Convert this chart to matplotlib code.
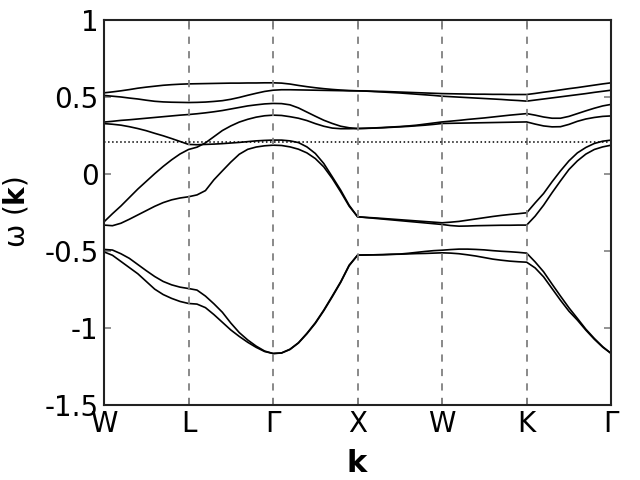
import matplotlib
matplotlib.use("Agg")
import matplotlib.pyplot as plt
import numpy as np

# path coordinate (high-symmetry points at integer positions), step 0.1
kpath = np.round(np.linspace(0, 6, 61), 2)
sym_labels = ["W", "L", "Γ", "X", "W", "K", "Γ"]
sym_pos = [0, 1, 2, 3, 4, 5, 6]
fermi = 0.205

band1 = [.525, .531, .538, .546, .555, .562, .568, .574, .578, .581, .583,
         .584, .585, .586, .587, .588, .588, .589, .589, .590, .590,
         .588, .582, .573, .565, .558, .552, .547, .543, .540, .538,
         .537, .535, .534, .532, .530, .528, .526, .524, .522, .520,
         .519, .518, .517, .516, .516, .515, .515, .514, .514, .514,
         .521, .529, .536, .544, .552, .559, .567, .575, .583, .590]
band2 = [.508, .503, .498, .491, .485, .477, .470, .466, .464, .463, .462,
         .463, .465, .469, .474, .483, .495, .509, .522, .534, .542,
         .545, .545, .544, .543, .542, .541, .540, .539, .538, .538,
         .536, .533, .530, .527, .524, .520, .516, .512, .508, .503,
         .500, .497, .494, .491, .488, .485, .482, .478, .475, .471,
         .478, .485, .492, .499, .506, .513, .520, .528, .535, .542]
band3 = [.335, .340, .346, .350, .355, .360, .365, .370, .375, .380, .384,
         .389, .395, .402, .410, .420, .430, .440, .447, .453, .456,
         .455, .447, .427, .400, .373, .347, .326, .308, .298, .293,
         .295, .297, .300, .303, .306, .310, .315, .322, .329, .336,
         .341, .346, .352, .357, .362, .368, .374, .380, .385, .390,
         .380, .368, .360, .360, .372, .390, .408, .425, .440, .450]
band4 = [-.313, -.260, -.210, -.155, -.100, -.050, .000, .047, .090, .128, .157,
         .172, .200, .240, .280, .310, .335, .353, .367, .376, .380,
         .378, .370, .360, .345, .325, .308, .296, .292, .292, .293,
         .294, .296, .298, .301, .304, .307, .311, .315, .320, .326,
         .327, .328, .329, .330, .331, .332, .333, .334, .335, .336,
         .322, .310, .304, .305, .320, .340, .355, .365, .372, .375]
band5 = [.325, .321, .315, .305, .293, .279, .262, .246, .228, .209, .190,
         .188, .190, .192, .195, .199, .203, .208, .213, .216, .218,
         .218, .213, .202, .174, .131, .066, -.020, -.107, -.205, -.280,
         -.284, -.287, -.291, -.295, -.299, -.303, -.307, -.311, -.315, -.319,
         -.315, -.310, -.302, -.294, -.286, -.278, -.271, -.265, -.260, -.254,
         -.190, -.129, -.053, .018, .083, .135, .170, .196, .211, .218]
band6 = [-.334, -.338, -.322, -.296, -.268, -.240, -.212, -.188, -.170, -.158, -.150,
         -.138, -.110, -.040, .018, .075, .126, .158, .173, .181, .185,
         .183, .174, .159, .135, .098, .044, -.031, -.118, -.211, -.280,
         -.285, -.290, -.295, -.300, -.305, -.310, -.315, -.320, -.325, -.330,
         -.337, -.341, -.340, -.338, -.337, -.336, -.335, -.335, -.334, -.334,
         -.276, -.205, -.124, -.047, .027, .083, .127, .157, .174, .185]
band7 = [-.492, -.496, -.520, -.550, -.590, -.630, -.668, -.700, -.722, -.737, -.746,
         -.756, -.795, -.845, -.900, -.970, -1.032, -1.080, -1.120, -1.152, -1.168,
         -1.164, -1.140, -1.098, -1.037, -.968, -.886, -.795, -.702, -.594, -.529,
         -.528, -.527, -.526, -.524, -.522, -.517, -.511, -.505, -.500, -.497,
         -.493, -.490, -.490, -.492, -.495, -.500, -.504, -.507, -.511, -.516,
         -.573, -.637, -.717, -.795, -.871, -.940, -1.010, -1.070, -1.124, -1.168]
band8 = [-.508, -.530, -.570, -.610, -.650, -.700, -.750, -.785, -.810, -.830, -.843,
         -.847, -.870, -.915, -.965, -1.015, -1.057, -1.095, -1.128, -1.155, -1.168,
         -1.165, -1.142, -1.100, -1.040, -.972, -.890, -.800, -.706, -.598, -.529,
         -.528, -.527, -.526, -.524, -.523, -.521, -.519, -.518, -.516, -.514,
         -.516, -.520, -.527, -.535, -.545, -.555, -.562, -.568, -.572, -.575,
         -.612, -.670, -.746, -.822, -.893, -.951, -1.016, -1.075, -1.127, -1.168]

bands = [band1, band2, band3, band4, band5, band6, band7, band8]

fig = plt.figure(figsize=(6.4, 4.8), dpi=100)
ax = fig.add_axes([0.1625, 0.157, 0.7925, 0.802])

for b in bands:
    ax.plot(kpath, b, color="black", lw=1.2)

for p in sym_pos[1:-1]:
    ax.axvline(p, color="#808080", ls=(0, (4, 4)), lw=1.3)
ax.axhline(fermi, color="black", ls=":", lw=1.1)

ax.set_xlim(0, 6)
ax.set_ylim(-1.5, 1)
ax.set_xticks(sym_pos)
ax.set_xticklabels(sym_labels)
ax.set_yticks([-1.5, -1, -0.5, 0, 0.5, 1])
ax.set_yticklabels(["-1.5", "-1", "-0.5", "0", "0.5", "1"])
ax.tick_params(direction="in", length=5, width=1.2, color="#808080",
               top=True, right=True, labelsize=20, pad=4)
for s in ax.spines.values():
    s.set_color("#222222")
    s.set_linewidth(1.5)

ax.set_xlabel(r"$\mathbf{k}$", fontsize=22, labelpad=8)
ax.set_ylabel("ω (" + r"$\mathbf{k}$" + ")", fontsize=20, labelpad=10)

fig.savefig("out.png", dpi=100)
